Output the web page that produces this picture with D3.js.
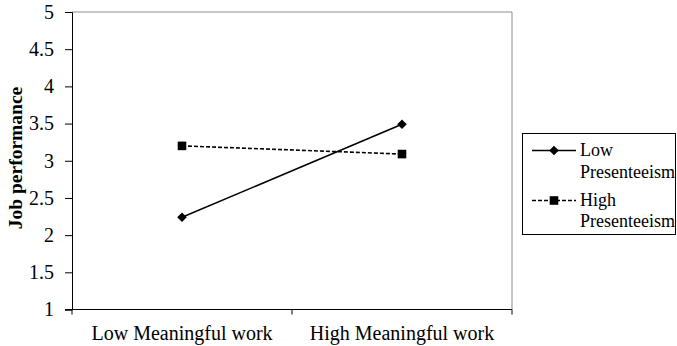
<!DOCTYPE html>
<html><head><meta charset="utf-8">
<script src="https://cdn.jsdelivr.net/npm/d3@7"></script>
<style>body{margin:0;background:#fff}svg{display:block}</style>
</head><body>
<script>
const categories = ["Low Meaningful work", "High Meaningful work"];
const lowPresenteeism = [2.24, 3.49];
const highPresenteeism = [3.20, 3.09];
const seriesNames = [["Low", "Presenteeism"], ["High", "Presenteeism"]];
const yTicks = [1, 1.5, 2, 2.5, 3, 3.5, 4, 4.5, 5];
const yLabel = "Job performance";

const FONT = "'Liberation Serif', Tinos, 'Times New Roman', 'DejaVu Serif', serif";
const W = 677, H = 346;
const m = {left: 72, right: 165, top: 12, bottom: 36.5};
const svg = d3.select("body").append("svg").attr("width", W).attr("height", H)
  .style("font-family", FONT);
const x = d3.scaleBand().domain(categories).range([m.left, W - m.right]);
const y = d3.scaleLinear().domain([1, 5]).range([H - m.bottom, m.top]);

// frame top/right
svg.append("line").attr("x1", m.left).attr("x2", W - m.right).attr("y1", y(5)).attr("y2", y(5)).attr("stroke", "#8c8c8c");
svg.append("line").attr("x1", W - m.right).attr("x2", W - m.right).attr("y1", y(5)).attr("y2", y(1)).attr("stroke", "#8c8c8c");

const yAxis = svg.append("g").attr("transform", `translate(${m.left},0)`)
  .call(d3.axisLeft(y).tickValues(yTicks).tickFormat(d3.format("")).tickSize(7).tickPadding(11));
yAxis.attr("font-family", null);
yAxis.selectAll("text").style("font-size", "20px").style("font-family", FONT).attr("fill", "#000");
yAxis.selectAll("line,path").attr("stroke", "#000");

const xAxis = svg.append("g").attr("transform", `translate(0,${y(1)})`)
  .call(d3.axisBottom(x).tickSize(0).tickPadding(16));
xAxis.attr("font-family", null);
xAxis.selectAll("text").style("font-size", "20px").style("font-family", FONT).attr("fill", "#000");
xAxis.select("path").attr("stroke", "#000").attr("d", `M${m.left - 7},0H${W - m.right}`);
const xb = [m.left, m.left + x.step(), W - m.right];
xAxis.selectAll(".xt").data(xb).enter().append("line").attr("class", "xt")
  .attr("x1", d => d).attr("x2", d => d).attr("y1", 0).attr("y2", 5).attr("stroke", "#000");

svg.append("text").attr("transform", `translate(21.5,158) rotate(-90)`)
  .attr("text-anchor", "middle").style("font-family", FONT).style("font-size", "19.5px").style("font-weight", "bold").text(yLabel);

const cx = d => x(d) + x.bandwidth() / 2;
const line = d3.line().x((d, i) => cx(categories[i])).y(d => y(d));
svg.append("path").datum(lowPresenteeism).attr("d", line).attr("fill", "none").attr("stroke", "#000").attr("stroke-width", 1.6);
svg.append("path").datum(highPresenteeism).attr("d", line).attr("fill", "none").attr("stroke", "#000").attr("stroke-width", 1.6).attr("stroke-dasharray", "4,2");

const diamondPath = "M0,-4.8L4.8,0L0,4.8L-4.8,0Z";
const squarePath = "M-4.3,-4.3H4.3V4.3H-4.3Z";
svg.selectAll(".d").data(lowPresenteeism).enter().append("path")
  .attr("transform", (d, i) => `translate(${cx(categories[i])},${y(d)})`).attr("d", diamondPath).attr("fill", "#000");
svg.selectAll(".s").data(highPresenteeism).enter().append("path")
  .attr("transform", (d, i) => `translate(${cx(categories[i])},${y(d)})`).attr("d", squarePath).attr("fill", "#000");

// legend
const lg = svg.append("g");
lg.append("rect").attr("x", 522.5).attr("y", 133.5).attr("width", 153).attr("height", 101).attr("fill", "none").attr("stroke", "#000");
const rows = [150.5, 200.5];
const base = [156, 205.5];
rows.forEach((ry, i) => {
  lg.append("line").attr("x1", 532).attr("x2", 576).attr("y1", ry).attr("y2", ry).attr("stroke", "#000").attr("stroke-width", 1.6)
    .attr("stroke-dasharray", i ? "4,2" : null);
  lg.append("path").attr("transform", `translate(554,${ry})`).attr("d", i ? squarePath : diamondPath).attr("fill", "#000");
  const t = lg.append("text").attr("x", 580).attr("y", base[i]).style("font-family", FONT).style("font-size", "18px");
  t.append("tspan").attr("x", 580).text(seriesNames[i][0]);
  t.append("tspan").attr("x", 580).attr("dy", 21.5).text(seriesNames[i][1]);
});
</script>
</body></html>
